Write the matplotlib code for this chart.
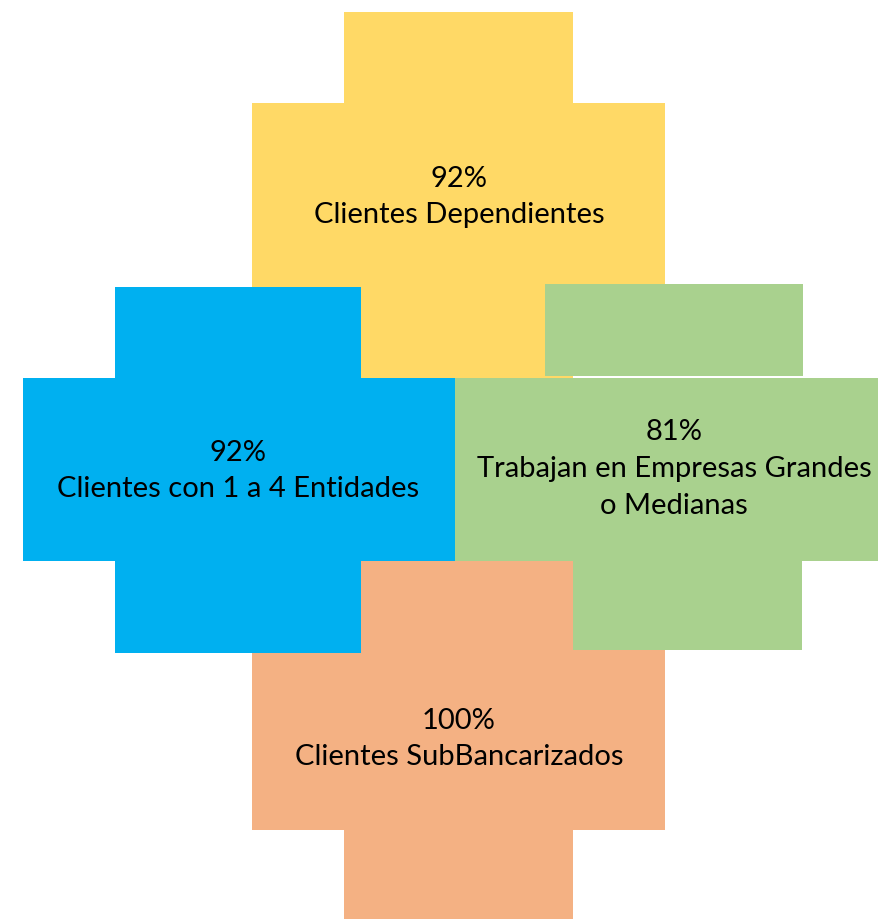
import matplotlib.pyplot as plt
from matplotlib.patches import Rectangle

# chart content
percentages = ["92%", "92%", "81%", "100%"]
labels = ["Clientes Dependientes",
          "Clientes con 1 a 4 Entidades",
          "Trabajan en Empresas Grandes\no Medianas",
          "Clientes SubBancarizados"]
colors = ["#FFD966", "#00B0F0", "#A9D18E", "#F4B183"]

# layout of the cross shapes, in pixel units (x0, y0, x1, y1)
yellow_rects = [(344, 12, 573, 378), (252, 103, 665, 287)]
blue_rects = [(115, 287, 361, 653), (23, 378, 455, 561)]
green_rects = [(545, 284, 803, 376), (455, 378, 893, 561), (545, 561, 802, 650)]
orange_wide = [(252, 650, 665, 830)]
orange_tall = [(344, 561, 573, 919)]

text_centers = [(459, 197), (238, 471), (674, 469), (459, 739)]


def add_rects(ax, rects, color, z):
    for x0, y0, x1, y1 in rects:
        ax.add_patch(Rectangle((x0, y0), x1 - x0, y1 - y0,
                               facecolor=color, edgecolor="none", zorder=z))


def main():
    fig = plt.figure(figsize=(8.79, 9.19), dpi=100)
    ax = fig.add_axes([0, 0, 1, 1])
    ax.set_xlim(0, 879)
    ax.set_ylim(919, 0)
    ax.axis("off")

    add_rects(ax, yellow_rects, colors[0], 1)
    add_rects(ax, orange_wide, colors[3], 2)
    add_rects(ax, green_rects, colors[2], 3)
    add_rects(ax, orange_tall, colors[3], 4)
    add_rects(ax, blue_rects, colors[1], 5)

    for (cx, cy), pct, lab in zip(text_centers, percentages, labels):
        ax.text(cx, cy, pct + "\n" + lab, ha="center", va="center",
                fontsize=21, family=["Lato", "DejaVu Sans"],
                linespacing=1.5, color="black", zorder=10)

    fig.savefig("out.png", dpi=100)


if __name__ == "__main__":
    main()
